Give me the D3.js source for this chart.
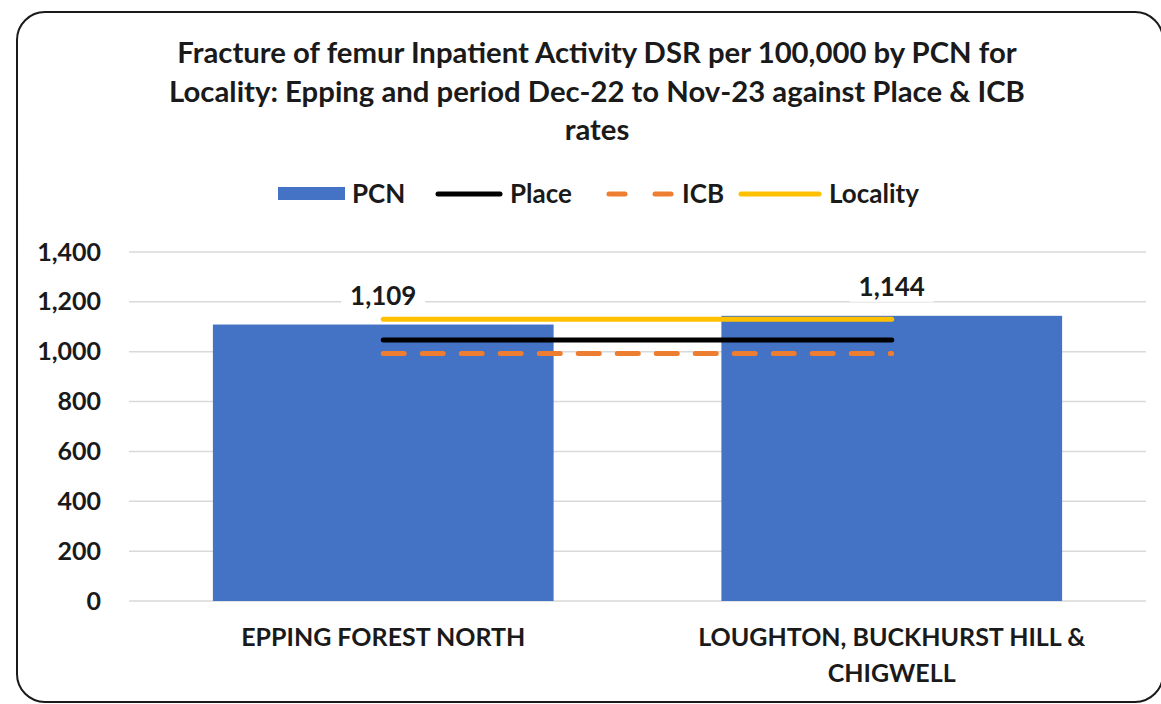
<!DOCTYPE html>
<html>
<head>
<meta charset="utf-8">
<script src="https://cdn.jsdelivr.net/npm/d3@7"></script>
<style>
  body { margin: 0; background: #fff; }
  svg { font-family: Lato, "Open Sans", sans-serif; }
</style>
</head>
<body>
<svg id="chart" width="1161" height="704"></svg>
<script>
// chart data
const categories = ["EPPING FOREST NORTH", "LOUGHTON, BUCKHURST HILL & CHIGWELL"];
const pcnValues = [1109, 1144];
const placeValues = [1047, 1047];
const icbValues = [993, 993];
const localityValues = [1130, 1130];
const yTicks = [0, 200, 400, 600, 800, 1000, 1200, 1400];
const titleLines = [
  "Fracture of femur Inpatient Activity DSR per 100,000 by PCN for",
  "Locality: Epping and period Dec-22 to Nov-23 against Place & ICB",
  "rates"
];

const svg = d3.select("#chart");

// outer rounded border
svg.append("rect")
  .attr("x", 17).attr("y", 12)
  .attr("width", 1146).attr("height", 690)
  .attr("rx", 28)
  .attr("fill", "#fff")
  .attr("stroke", "#1a1a1a")
  .attr("stroke-width", 2);

// title
svg.append("g")
  .selectAll("text")
  .data(titleLines)
  .join("text")
  .attr("x", 597)
  .attr("y", (d, i) => 63 + i * 38.5)
  .attr("text-anchor", "middle")
  .style("font-size", "29.3px")
  .style("font-weight", "bold")
  .attr("fill", "#1a1a1a")
  .text(d => d);

const plotLeft = 129, plotRight = 1146;
const x = d3.scaleBand()
  .domain(categories)
  .range([plotLeft, plotRight])
  .paddingInner(0.33)
  .paddingOuter(0.165);

const y = d3.scaleLinear()
  .domain([0, 1400])
  .range([601, 252]);

// gridlines
svg.append("g")
  .selectAll("line")
  .data(yTicks)
  .join("line")
  .attr("x1", plotLeft).attr("x2", plotRight)
  .attr("y1", d => y(d)).attr("y2", d => y(d))
  .attr("stroke", "#d9d9d9")
  .attr("stroke-width", 1.5);

// y axis labels
const yAxis = svg.append("g")
  .attr("transform", `translate(101,0)`)
  .call(d3.axisLeft(y).tickValues(yTicks).tickSize(0).tickPadding(0).tickFormat(d3.format(",")));
yAxis.select(".domain").remove();
yAxis.selectAll("text")
  .style("font-size", "25px")
  .style("font-weight", "bold")
  .style("font-family", "Lato, sans-serif")
  .attr("fill", "#1a1a1a");

// bars
svg.append("g")
  .selectAll("rect")
  .data(pcnValues)
  .join("rect")
  .attr("x", (d, i) => x(categories[i]))
  .attr("width", x.bandwidth())
  .attr("y", d => y(d))
  .attr("height", d => y(0) - y(d))
  .attr("fill", "#4472C4");

// comparison lines, from centre of first category to centre of last
const cx = c => x(c) + x.bandwidth() / 2;
const line = d3.line()
  .x((d, i) => cx(categories[i]))
  .y(d => y(d));

const series = [
  { name: "Place", values: placeValues, color: "#000000", dash: null },
  { name: "ICB", values: icbValues, color: "#ED7D31", dash: "21,18" },
  { name: "Locality", values: localityValues, color: "#FFC000", dash: null }
];

svg.append("g")
  .selectAll("path")
  .data(series)
  .join("path")
  .attr("d", d => line(d.values))
  .attr("fill", "none")
  .attr("stroke", d => d.color)
  .attr("stroke-width", 5)
  .attr("stroke-linecap", "round")
  .attr("stroke-dasharray", d => d.dash);

// data labels with white backing
const labels = svg.append("g")
  .selectAll("g")
  .data(pcnValues)
  .join("g")
  .attr("transform", (d, i) => `translate(${cx(categories[i])},${y(d) - 29})`);
labels.append("rect")
  .attr("x", -42).attr("y", -15)
  .attr("width", 84).attr("height", 30)
  .attr("fill", "#fff");
labels.append("text")
  .attr("text-anchor", "middle")
  .attr("dy", "0.36em")
  .style("font-size", "26px")
  .style("font-weight", "bold")
  .attr("fill", "#1a1a1a")
  .text(d => d3.format(",")(d));

// x axis labels (wrapped)
const xLabelLines = [["EPPING FOREST NORTH"], ["LOUGHTON, BUCKHURST HILL &", "CHIGWELL"]];
const xl = svg.append("g")
  .selectAll("text")
  .data(categories)
  .join("text")
  .attr("x", d => cx(d))
  .attr("y", 646)
  .attr("text-anchor", "middle")
  .style("font-size", "25px")
  .style("font-weight", "bold")
  .attr("fill", "#1a1a1a");
xl.selectAll("tspan")
  .data((d, i) => xLabelLines[i])
  .join("tspan")
  .attr("x", function () { return this.parentNode.getAttribute("x"); })
  .attr("dy", (d, i) => i === 0 ? 0 : 36)
  .text(d => d);

// legend
const legendItems = [
  { name: "PCN", type: "rect", color: "#4472C4", x: 278, w: 67 },
  { name: "Place", type: "line", color: "#000000", x: 435, w: 68 },
  { name: "ICB", type: "dash", color: "#ED7D31", x: 606, w: 69 },
  { name: "Locality", type: "line", color: "#FFC000", x: 738, w: 84 }
];
const legend = svg.append("g").attr("transform", "translate(0,194)");
const li = legend.selectAll("g")
  .data(legendItems)
  .join("g")
  .attr("transform", d => `translate(${d.x},0)`);
li.filter(d => d.type === "rect")
  .append("rect")
  .attr("x", 0).attr("y", -7)
  .attr("width", d => d.w).attr("height", 13)
  .attr("fill", d => d.color);
li.filter(d => d.type !== "rect")
  .append("line")
  .attr("x1", 3).attr("x2", d => d.w - 3)
  .attr("y1", 0).attr("y2", 0)
  .attr("stroke", d => d.color)
  .attr("stroke-width", 5)
  .attr("stroke-linecap", "round")
  .attr("stroke-dasharray", d => d.type === "dash" ? "16,30" : null);
li.append("text")
  .attr("x", d => d.w + 7)
  .attr("dy", "0.35em")
  .style("font-size", "26px")
  .style("font-weight", "bold")
  .attr("fill", "#1a1a1a")
  .text(d => d.name);
</script>
</body>
</html>
